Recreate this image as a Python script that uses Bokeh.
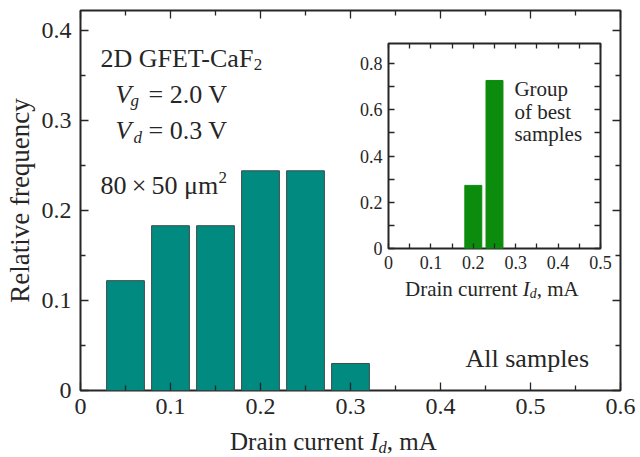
import math
from bokeh.plotting import figure
from bokeh.models import (Range1d, LinearAxis, FixedTicker, Label, Div,
                          CustomJSTickFormatter, ColumnDataSource)
from bokeh.layouts import column
from bokeh.embed import file_html
from bokeh.resources import INLINE

# ---------------- data ----------------
bin_centers = [0.05, 0.10, 0.15, 0.20, 0.25, 0.30]
all_freq = [0.122, 0.183, 0.183, 0.244, 0.244, 0.030]

best_centers = [0.20, 0.25]
best_freq = [0.273, 0.727]

main_x_ticks = [0.0, 0.1, 0.2, 0.3, 0.4, 0.5, 0.6]
main_x_labels = ["0", "0.1", "0.2", "0.3", "0.4", "0.5", "0.6"]
main_x_minor = [0.05, 0.15, 0.25, 0.35, 0.45, 0.55]
main_y_ticks = [0.0, 0.1, 0.2, 0.3, 0.4]
main_y_labels = ["0", "0.1", "0.2", "0.3", "0.4"]
main_y_minor = [0.05, 0.15, 0.25, 0.35]

inset_x_ticks = [0.0, 0.1, 0.2, 0.3, 0.4, 0.5]
inset_x_labels = ["0", "0.1", "0.2", "0.3", "0.4", "0.5"]
inset_x_minor = [0.05, 0.15, 0.25, 0.35, 0.45]
inset_y_ticks = [0.0, 0.2, 0.4, 0.6, 0.8]
inset_y_labels = ["0", "0.2", "0.4", "0.6", "0.8"]
inset_y_minor = [0.1, 0.3, 0.5, 0.7]

FONT = "Liberation Serif"
INK = "#262626"
TEAL = "#008a80"
GREEN = "#0c8c0c"
EDGE = "#3c4c4a"

LOOKUP = """
const i = tv.findIndex((t) => Math.abs(t - tick) < 1e-9);
return i >= 0 ? tl[i] : "";
"""


def style_axis(ax, ticks, minor, labels, size, tin, minin, standoff):
    ax.ticker = FixedTicker(ticks=ticks, minor_ticks=minor)
    ax.axis_line_color = None
    ax.major_tick_in = tin
    ax.major_tick_out = 0
    ax.minor_tick_in = minin
    ax.minor_tick_out = 0
    ax.major_tick_line_color = INK
    ax.minor_tick_line_color = INK
    ax.major_tick_line_width = 1.3
    ax.minor_tick_line_width = 1.3
    if labels is None:
        ax.formatter = CustomJSTickFormatter(code="return ''")
        ax.major_label_text_font_size = "1px"
        ax.major_label_standoff = 0
    else:
        ax.formatter = CustomJSTickFormatter(
            args=dict(tv=ticks, tl=labels), code=LOOKUP)
        ax.major_label_text_font = FONT
        ax.major_label_text_font_size = size
        ax.major_label_text_font_style = "normal"
        ax.major_label_text_color = INK
        ax.major_label_standoff = standoff


def label(fig, x, y, text, size, italic=False, **kw):
    fig.add_layout(Label(x=x, y=y, text=text, text_font=FONT,
                         text_font_size=size, text_color=INK,
                         text_font_style="italic" if italic else "normal",
                         text_baseline=kw.pop("baseline", "alphabetic"),
                         text_align=kw.pop("align", "left"), **kw))


# ---------------- main plot ----------------
p = figure(width=640, height=457, x_range=Range1d(0, 0.6),
           y_range=Range1d(0, 0.422), output_backend="svg",
           toolbar_location=None, min_border_left=80, min_border_right=20,
           min_border_top=10, min_border_bottom=67)
p.xgrid.visible = False
p.ygrid.visible = False
p.outline_line_color = INK
p.outline_line_width = 2
p.background_fill_color = "white"
p.border_fill_color = "white"

style_axis(p.xaxis[0], main_x_ticks, main_x_minor, main_x_labels, "24px", 8, 5, 8)
style_axis(p.yaxis[0], main_y_ticks, main_y_minor, main_y_labels, "24px", 8, 5, 9)
p.yaxis[0].axis_label = "Relative frequency"
p.yaxis[0].axis_label_text_font = FONT
p.yaxis[0].axis_label_text_font_size = "27px"
p.yaxis[0].axis_label_text_font_style = "normal"
p.yaxis[0].axis_label_text_color = INK
p.yaxis[0].axis_label_standoff = 4

top_ax = LinearAxis()
style_axis(top_ax, main_x_ticks, main_x_minor, None, None, 8, 5, 0)
p.add_layout(top_ax, "above")
right_ax = LinearAxis()
style_axis(right_ax, main_y_ticks, main_y_minor, None, None, 8, 5, 0)
p.add_layout(right_ax, "right")

src_all = ColumnDataSource(dict(x=bin_centers, top=all_freq))
p.vbar(x="x", top="top", width=0.042, bottom=0, source=src_all,
       fill_color=TEAL, line_color=EDGE, line_width=1)

# annotations inside the main frame
label(p, 0.0222, 0.3689, "2D GFET-CaF", "26px")
label(p, 0.1925, 0.3622, "2", "17px")
label(p, 0.0389, 0.3289, "V", "26px", italic=True)
label(p, 0.0556, 0.3222, "g", "17px", italic=True)
label(p, 0.0756, 0.3289, "= 2.0 V", "26px")
label(p, 0.0389, 0.2889, "V", "26px", italic=True)
label(p, 0.0589, 0.2811, "d", "17px", italic=True)
label(p, 0.0756, 0.2889, "= 0.3 V", "26px")
label(p, 0.0222, 0.2278, "80\u2009\u00d7\u200950 \u03bcm", "26px")
label(p, 0.1533, 0.2367, "2", "17px")
label(p, 0.4278, 0.0356, "All samples", "26px")

# ---------------- inset ----------------
q = figure(width=312, height=267, x_range=Range1d(0, 0.5),
           y_range=Range1d(0, 0.887), output_backend="svg",
           toolbar_location=None, min_border_left=80, min_border_right=20,
           min_border_top=10, min_border_bottom=52)
q.xgrid.visible = False
q.ygrid.visible = False
q.outline_line_color = INK
q.outline_line_width = 2
q.background_fill_color = None
q.border_fill_color = None

style_axis(q.xaxis[0], inset_x_ticks, inset_x_minor, inset_x_labels, "18px", 5, 5, 7)
style_axis(q.yaxis[0], inset_y_ticks, inset_y_minor, inset_y_labels, "18px", 6, 6, 6)
q_top = LinearAxis()
style_axis(q_top, inset_x_ticks, inset_x_minor, None, None, 5, 5, 0)
q.add_layout(q_top, "above")
q_right = LinearAxis()
style_axis(q_right, inset_y_ticks, inset_y_minor, None, None, 6, 6, 0)
q.add_layout(q_right, "right")

src_best = ColumnDataSource(dict(x=best_centers, top=best_freq))
q.vbar(x="x", top="top", width=0.04, bottom=0, source=src_best,
       fill_color=GREEN, line_color=GREEN, line_width=1)

label(q, 0.297, 0.692, "Group", "21px")
label(q, 0.297, 0.592, "of best", "21px")
label(q, 0.297, 0.497, "samples", "21px")

q.styles = {"position": "absolute", "left": "308px", "top": "33px",
            "z-index": "10"}

# axis titles with italic symbol and subscript
XLAB = ("Drain current <i>I</i><span style='font-size:66%;font-style:italic;"
        "vertical-align:-0.18em;line-height:0'>d</span>, mA")
main_xlabel = Div(text=XLAB, styles={
    "position": "absolute", "left": "225px", "top": "424px",
    "font-family": FONT, "font-size": "25px", "line-height": "25px",
    "color": INK, "white-space": "nowrap", "z-index": "20"})
inset_xlabel = Div(text=XLAB, styles={
    "position": "absolute", "left": "400px", "top": "274px",
    "font-family": FONT, "font-size": "21px", "line-height": "21px",
    "color": INK, "white-space": "nowrap", "z-index": "20"})

layout = column(p, q, main_xlabel, inset_xlabel)
layout.styles = {"position": "relative"}

open("out.html", "w").write(file_html(layout, INLINE))
